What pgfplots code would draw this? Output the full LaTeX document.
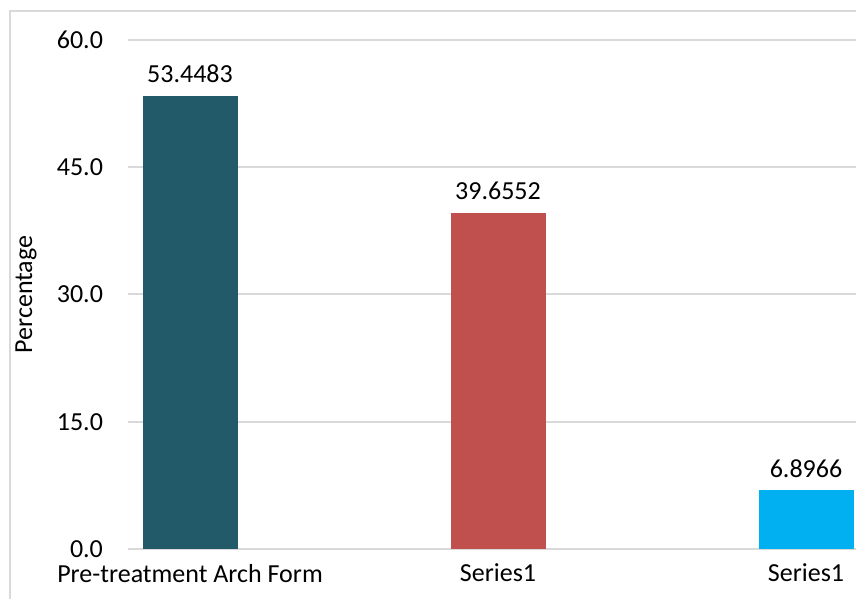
\documentclass[border=0pt]{standalone}
\usepackage{pgfplots}
\pgfplotsset{compat=1.18}
\usepackage{fontspec}
\setmainfont{Carlito}
\definecolor{barA}{HTML}{235A69}
\definecolor{barB}{HTML}{C0504D}
\definecolor{barC}{HTML}{00B0F0}
\definecolor{gridc}{HTML}{D9D9D9}
\newcommand{\cf}{\fontsize{13}{15.6}\selectfont}
\begin{document}
\cf
\begin{tikzpicture}
\useasboundingbox (-64pt,-25pt) rectangle (364pt,274.5pt);
\draw[draw=gridc, line width=0.9pt] (-59pt,-30pt) -- (-59pt,269pt) -- (370pt,269pt);
\begin{axis}[
  at={(0pt,0pt)}, anchor=south west,
  scale only axis,
  width=364pt, height=254.5pt,
  xmin=-0.2013, xmax=2.1623,
  ymin=0, ymax=60,
  ytick={0,15,30,45,60},
  xtick={0,1,2},
  xticklabels={Pre-treatment Arch Form, Series1, Series1},
  axis line style={draw=none},
  major tick length=0pt,
  ymajorgrids,
  grid style={gridc, line width=1pt},
  yticklabel style={/pgf/number format/fixed, /pgf/number format/fixed zerofill, /pgf/number format/precision=1, /pgf/number format/assume math mode=true},
  yticklabel style={xshift=-8pt, font=\cf},
  xticklabel style={yshift=-3pt, font=\cf},
  ylabel={Percentage},
  ylabel style={at={(axis description cs:0,0.5)}, anchor=center, yshift=51pt, font=\cf},
  ybar, bar width=47.5pt, bar shift=0pt,
  point meta=explicit symbolic,
  nodes near coords,
  nodes near coords style={anchor=south, yshift=2pt, font=\cf, text=black},
  clip=false,
]
\addplot[draw=none, fill=barA] coordinates {(0,53.4483) [53.4483]};
\addplot[draw=none, fill=barB] coordinates {(1,39.6552) [39.6552]};
\addplot[draw=none, fill=barC] coordinates {(2,6.8966) [6.8966]};
\end{axis}
\end{tikzpicture}
\end{document}
